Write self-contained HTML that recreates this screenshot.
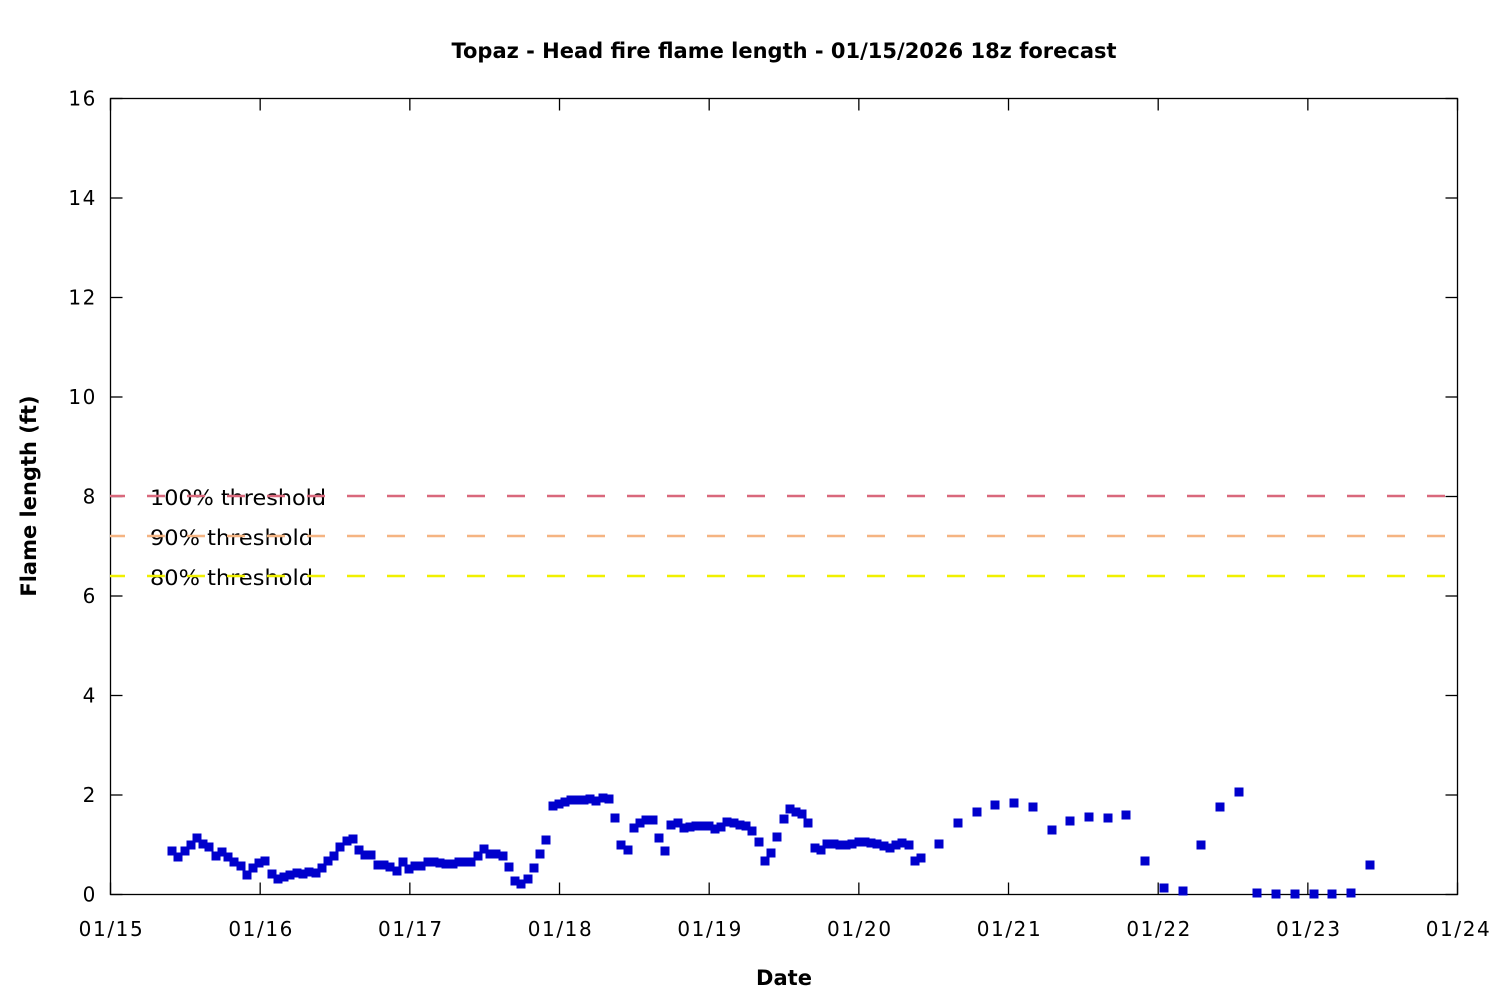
<!DOCTYPE html>
<html><head><meta charset="utf-8"><style>
body{margin:0;background:#fff}
svg{display:block}
text{font-family:"DejaVu Sans","Liberation Sans",sans-serif;fill:#000}
</style></head><body>
<svg id="s" width="1500" height="1000" xmlns="http://www.w3.org/2000/svg">
<rect width="1500" height="1000" fill="#fff"/>
<text x="784" y="58" text-anchor="middle" font-size="21" font-weight="bold">Topaz - Head fire flame length - 01/15/2026 18z forecast</text>
<text x="784" y="985" text-anchor="middle" font-size="21" font-weight="bold">Date</text>
<text transform="translate(36,496) rotate(-90)" text-anchor="middle" font-size="21" font-weight="bold">Flame length (ft)</text>
<g id="ax" stroke="#000" stroke-width="1.3" fill="none">
<rect x="110.5" y="98.5" width="1347" height="796"/>
</g>
<g id="yl" font-size="20" text-anchor="end" letter-spacing="1.6"></g>
<g id="xl" font-size="20" text-anchor="middle" letter-spacing="1.6"></g>
<g font-size="21">
<text x="150" y="505" textLength="176" lengthAdjust="spacingAndGlyphs">100% threshold</text>
<text x="150" y="545" textLength="163" lengthAdjust="spacingAndGlyphs">90% threshold</text>
<text x="150" y="585" textLength="163" lengthAdjust="spacingAndGlyphs">80% threshold</text>
</g>
<g stroke-width="2.5" stroke-dasharray="18 22" stroke-dashoffset="3">
<line x1="110" y1="496" x2="1457" y2="496" stroke="#d9687c"/>
<line x1="110" y1="536" x2="1457" y2="536" stroke="#f5b482"/>
<line x1="110" y1="576" x2="1457" y2="576" stroke="#f0f000"/>
</g>
<g id="pts" fill="#0000cc"></g>
</svg>
<script>
var NS="http://www.w3.org/2000/svg";
function el(p,t,a,txt){var e=document.createElementNS(NS,t);for(var k in a)e.setAttribute(k,a[k]);if(txt!=null)e.textContent=txt;document.getElementById(p).appendChild(e);}
for(var i=0;i<=8;i++){var y=894.5-i*99.5;
 el("ax","line",{x1:110.5,y1:y,x2:122.5,y2:y});el("ax","line",{x1:1457.5,y1:y,x2:1445.5,y2:y});
 el("yl","text",{x:97,y:y+7},String(i*2));}
var lab=["01/15","01/16","01/17","01/18","01/19","01/20","01/21","01/22","01/23","01/24"];
for(var i=0;i<=9;i++){var x=110.5+i*149.67;
 el("ax","line",{x1:x,y1:894.5,x2:x,y2:882.5});el("ax","line",{x1:x,y1:98.5,x2:x,y2:110.5});
 el("xl","text",{x:x+1,y:936},lab[i]);}
var d=[[172,851],[178,857],[185,851],[191,845],[197,838],[203,844],[209,847],[216,856],[222,852],[228,857],[234,862],[241,866],[247,875],[253,868],[259,863],[265,861],[272,874],[278,879],[284,877],[290,875],[297,873],[303,874],[309,872],[316,873],[322,868],[328,861],[334,856],[340,847],[347,841],[353,839],[359,850],[365,855],[371,855],[378,865],[384,865],[390,867],[397,871],[403,862],[409,869],[415,866],[421,866],[428,862],[434,862],[440,863],[446,864],[453,864],[459,862],[465,862],[471,862],[478,856],[484,849],[490,854],[496,854],[503,856],[509,867],[515,881],[521,884],[528,879],[534,868],[540,854],[546,840],[553,806],[559,804],[565,802],[571,800],[578,800],[584,800],[590,799],[596,801],[603,798],[609,799],[615,818],[621,845],[628,850],[634,828],[640,823],[646,820],[653,820],[659,838],[665,851],[671,825],[678,823],[684,828],[690,827],[696,826],[703,826],[709,826],[715,829],[721,827],[727,822],[734,823],[740,825],[746,826],[752,831],[759,842],[765,861],[771,853],[777,837],[784,819],[790,809],[796,812],[802,814],[808,823],[815,848],[821,850],[827,844],[834,844],[840,845],[846,845],[852,844],[859,842],[865,842],[871,843],[877,844],[884,846],[890,848],[896,845],[902,843],[909,845],[915,861],[921,858],[939,844],[958,823],[977,812],[995,805],[1014,803],[1033,807],[1052,830],[1070,821],[1089,817],[1108,818],[1126,815],[1145,861],[1164,888],[1183,891],[1201,845],[1220,807],[1239,792],[1257,893],[1276,894],[1295,894],[1314,894],[1332,894],[1351,893],[1370,865]];
d.forEach(function(p){el("pts","rect",{x:p[0]-4.5,y:p[1]-4.5,width:9,height:9});});
</script>
</body></html>
